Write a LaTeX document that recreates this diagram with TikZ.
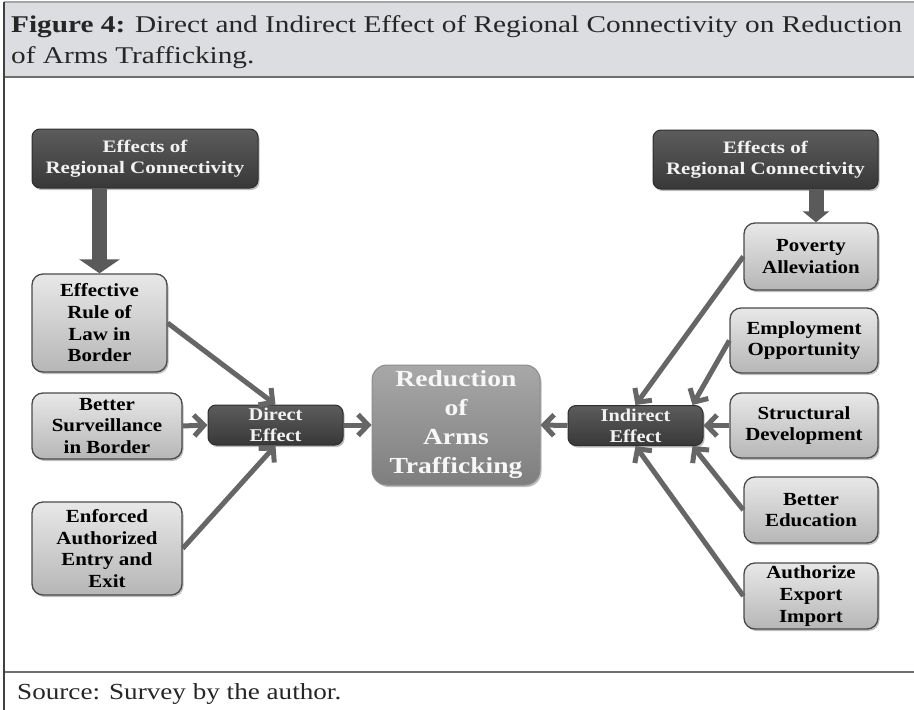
\documentclass[tikz,border=0pt]{standalone}
\usepackage{fontspec}
\setmainfont{Liberation Serif}
\newfontfamily\capfont[FakeStretch=1.22]{Liberation Serif}
\newfontfamily\srcfont[FakeStretch=1.18]{Liberation Serif}
\newfontfamily\boxfont[FakeStretch=1.13]{Liberation Serif}
\newfontfamily\darkfont[FakeStretch=1.2]{Liberation Serif}
\usetikzlibrary{arrows.meta,shadows,calc}

\definecolor{bandfill}{HTML}{DCDDE0}
\definecolor{rulegray}{HTML}{6E6E6E}
\definecolor{captext}{HTML}{262626}
\definecolor{darktop}{HTML}{5C5C5C}
\definecolor{darkbot}{HTML}{383838}
\definecolor{darkedge}{HTML}{2E2E2E}
\definecolor{lighttop}{HTML}{E8E8E8}
\definecolor{lightbot}{HTML}{B6B6B6}
\definecolor{lightedge}{HTML}{4A4A4A}
\definecolor{midtop}{HTML}{A8A8A8}
\definecolor{midbot}{HTML}{7E7E7E}
\definecolor{midedge}{HTML}{8C8C8C}
\definecolor{connc}{HTML}{666666}
\definecolor{blockc}{HTML}{5A5A5A}

\tikzset{
  boxshadow/.style={drop shadow={shadow xshift=1.5pt, shadow yshift=-2pt, opacity=0.25, fill=black}},
  darkbox/.style={draw=darkedge, line width=1pt, rounded corners=8pt,
    top color=darktop, bottom color=darkbot, text=white!95!black,
    align=center, inner sep=0pt, boxshadow},
  headbox/.style={darkbox, font=\darkfont\bfseries\fontsize{17.5}{21}\selectfont},
  effbox/.style={darkbox, font=\boxfont\bfseries\fontsize{18}{20.7}\selectfont},
  lightbox/.style={draw=lightedge, line width=1.3pt, rounded corners=11pt,
    top color=lighttop, bottom color=lightbot, text=black,
    align=center, inner sep=0pt, boxshadow,
    font=\boxfont\bfseries\fontsize{18.5}{21.7}\selectfont},
  goalbox/.style={draw=midedge, line width=1pt, rounded corners=15pt,
    top color=midtop, bottom color=midbot, text=white!97!black,
    align=center, inner sep=0pt, boxshadow,
    font=\darkfont\bfseries\fontsize{23}{29}\selectfont},
  conn/.style={draw=connc, line width=5pt, line cap=butt,
    -{Straight Barb[length=10pt,width=21pt]}},
  blockarrow/.style={draw=blockc, line width=#1},
}

\begin{document}
\begin{tikzpicture}[x=1pt, y=-1pt]
  \useasboundingbox (0,0) rectangle (914,710);
  \fill[white] (0,0) rectangle (914,710);

  % caption band and frame
  \fill[bandfill] (4,2) rectangle (914,77);
  \draw[gray!70, line width=1.2pt] (4,2) -- (914,2);
  \draw[rulegray, line width=2.5pt] (4,77) -- (914,77);
  \draw[rulegray, line width=1.5pt] (4,672) -- (914,672);
  \draw[black!75, line width=1.2pt] (4,2) -- (4,710);

  \node[anchor=base west, inner sep=0pt, text=captext,
        font=\capfont\fontsize{24}{28}\selectfont] (cap1) at (11,32)
    {\textbf{Figure 4:} Direct and Indirect Effect of Regional Connectivity on Reduction};
  \node[anchor=base west, inner sep=0pt, text=captext,
        font=\capfont\fontsize{24}{28}\selectfont] (cap2) at (11,63)
    {of Arms Trafficking.};
  \node[anchor=base west, inner sep=0pt, text=captext,
        font=\srcfont\fontsize{23}{28}\selectfont] (src) at (17,699)
    {Source: Survey by the author.};

  % boxes
  \node[headbox, minimum width=226pt, minimum height=59pt] (effL) at (145,158.5)
    {Effects of\\Regional Connectivity};
  \node[headbox, minimum width=225pt, minimum height=59pt] (effR) at (765.5,159.5)
    {Effects of\\Regional Connectivity};

  \node[lightbox, minimum width=135pt, minimum height=98pt] (rule) at (99.5,323)
    {Effective\\Rule of\\Law in\\Border};
  \node[lightbox, minimum width=150pt, minimum height=66pt] (surv) at (107,426)
    {Better\\Surveillance\\in Border};
  \node[lightbox, minimum width=150pt, minimum height=93pt] (enf) at (107,548.5)
    {Enforced\\Authorized\\Entry and\\Exit};

  \node[effbox, minimum width=135pt, minimum height=40pt] (direct) at (275.5,425)
    {Direct\\Effect};
  \node[goalbox, minimum width=168pt, minimum height=120pt] (red) at (456,425)
    {Reduction\\of\\Arms\\Trafficking};
  \node[effbox, minimum width=135pt, minimum height=40pt] (ind) at (635.5,425.5)
    {Indirect\\Effect};

  \node[lightbox, minimum width=134pt, minimum height=67pt] (pov) at (811,256.5)
    {Poverty\\Alleviation};
  \node[lightbox, minimum width=148pt, minimum height=65pt] (emp) at (804,340.5)
    {Employment\\Opportunity};
  \node[lightbox, minimum width=148pt, minimum height=65pt] (str) at (804,425.5)
    {Structural\\Development};
  \node[lightbox, minimum width=134pt, minimum height=66pt] (edu) at (811,510)
    {Better\\Education};
  \node[lightbox, minimum width=134pt, minimum height=66pt] (aut) at (811,596)
    {Authorize\\Export\\Import};

  % block arrows from the two heading boxes
  \coordinate (effLfoot) at (effL.south -| rule.north);
  \draw[blockarrow=15pt, -{Triangle[length=14pt,width=40pt]}] (effLfoot) -- (rule.north);
  \coordinate (povtop) at ($(pov.north)+(5,0)$);
  \coordinate (effRfoot) at (effR.south -| povtop);
  \draw[blockarrow=15pt, -{Triangle[length=11pt,width=26pt]}] (effRfoot) -- (povtop);

  % direct effects
  \draw[conn] (rule.east) -- (direct.north);
  \draw[conn] (surv.east) -- (direct.west);
  \draw[conn] (enf.east) -- (direct.south);
  \draw[conn] (direct.east) -- (red.west);

  % indirect effects
  \draw[conn] (pov.west) -- (ind.north);
  \draw[conn] (emp.west) -- ([xshift=-11pt]ind.north east);
  \draw[conn] (str.west) -- (ind.east);
  \draw[conn] (edu.west) -- ([xshift=-11pt]ind.south east);
  \draw[conn] (aut.west) -- (ind.south);
  \draw[conn] (ind.west) -- (red.east);
\end{tikzpicture}
\end{document}
